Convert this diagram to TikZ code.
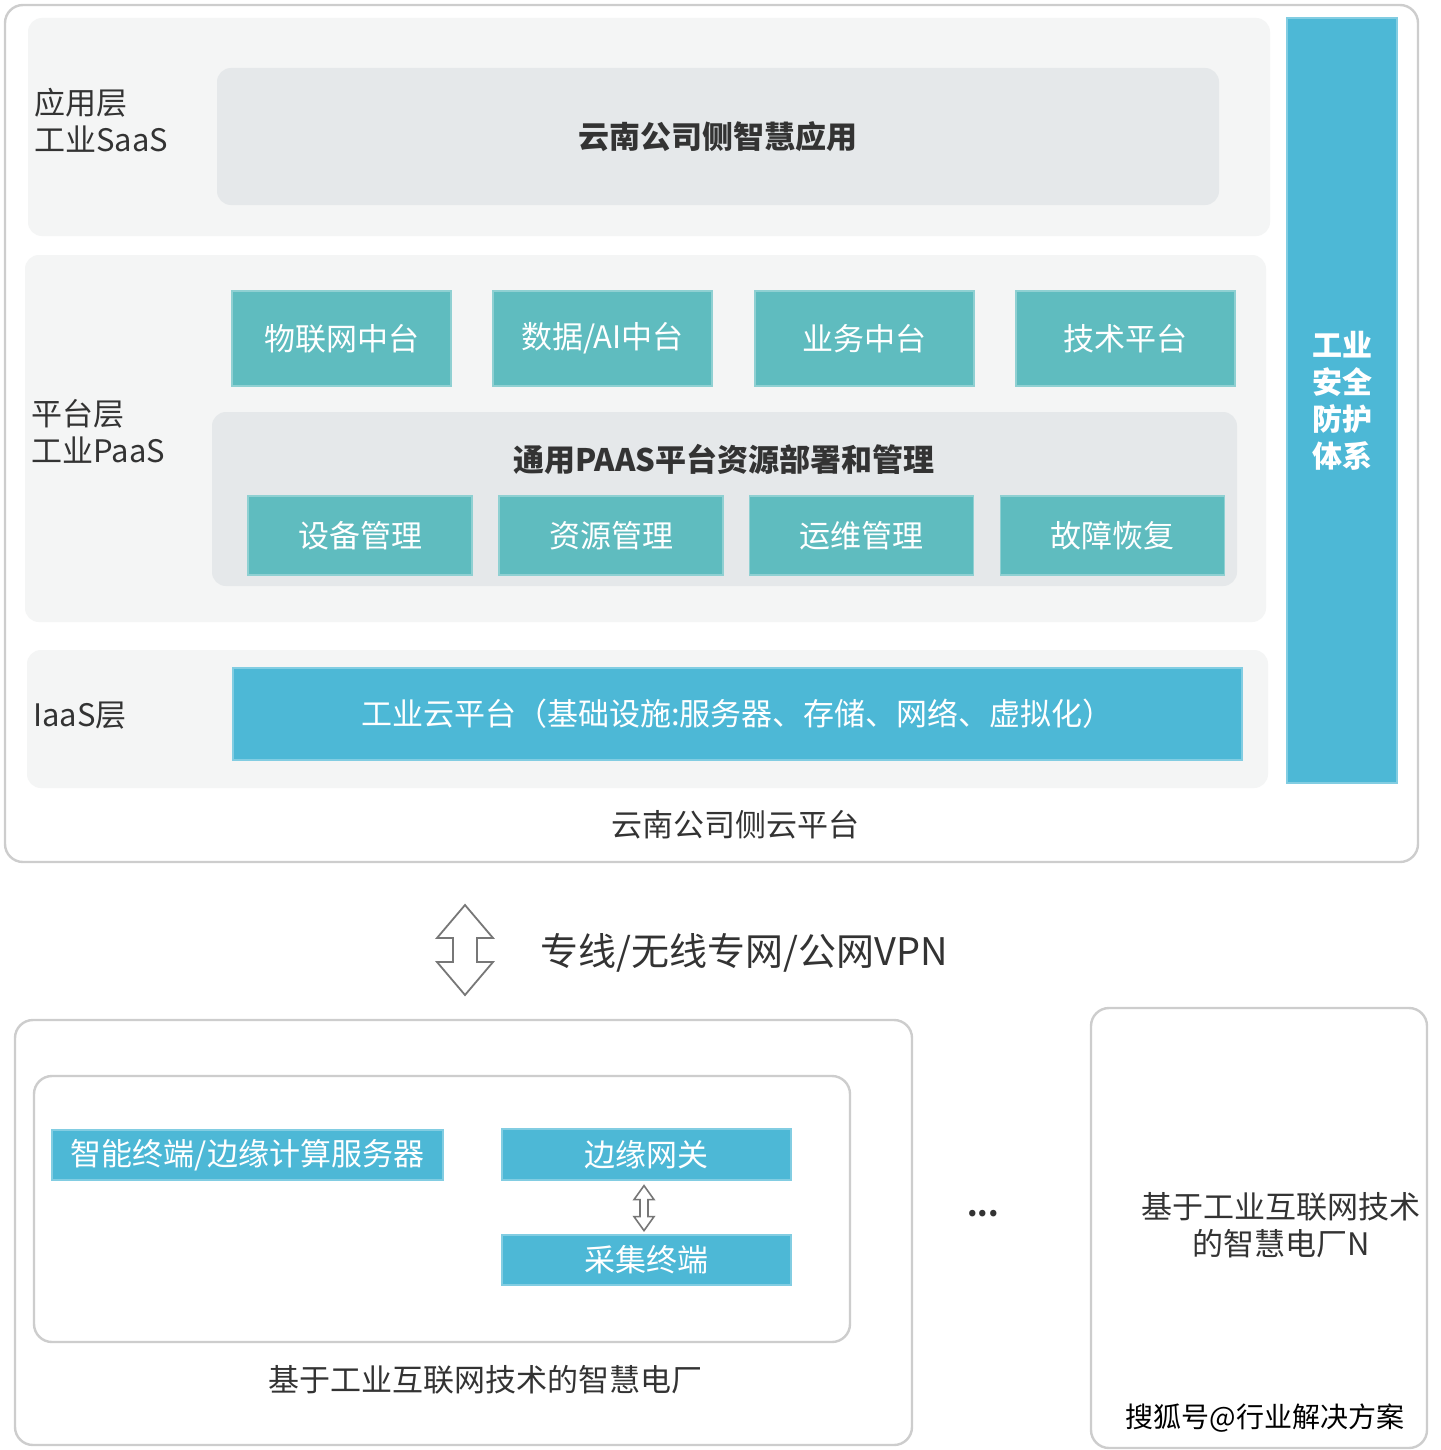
\documentclass[tikz,border=0pt]{standalone}
\usepackage{fontspec}
\setmainfont{Noto Sans CJK SC}
\definecolor{panelc}{HTML}{F4F5F5}
\definecolor{innerc}{HTML}{E5E8EA}
\definecolor{tealc}{HTML}{5FBCBF}
\definecolor{bluec}{HTML}{4DB8D6}
\definecolor{borderc}{HTML}{CDCDCD}
\definecolor{txtc}{HTML}{333333}
\definecolor{arrowc}{HTML}{777777}
\tikzset{
  frame/.style={draw=borderc, line width=1.2pt, fill=white, rounded corners=9pt, inner sep=0pt},
  panel/.style={fill=panelc, rounded corners=7pt, inner sep=0pt},
  innerpanel/.style={fill=innerc, rounded corners=7pt, inner sep=0pt},
  tealbox/.style={fill=tealc, draw=tealc!70!white, line width=0.6pt, text=white, inner sep=0pt, font=\fontsize{15.5}{18}\selectfont},
  bluebox/.style={fill=bluec, draw=bluec!70!white, line width=0.6pt, text=white, inner sep=0pt, font=\fontsize{15.5}{18}\selectfont},
  lbl/.style={text=txtc, inner sep=0pt, font=\fontsize{15.5}{18.5}\selectfont},
  hollow/.style={draw=arrowc, line width=0.9pt, fill=white, line join=miter}
}
\begin{document}
\begin{tikzpicture}[x=0.5pt,y=-0.5pt]
\useasboundingbox (0,0) rectangle (1440,1450);
% top outer frame
\node[frame, minimum width=706.5pt, minimum height=428.5pt] (outer) at (711.5,433.5) {};
% SaaS layer
\node[panel, minimum width=621pt, minimum height=109pt] (saas) at (649,127) {};
\node[innerpanel, minimum width=501pt, minimum height=68.5pt, text=txtc, font=\fontsize{15.5}{18}\selectfont\bfseries] (app) at (718,136.5) {云南公司侧智慧应用};
\node[lbl, anchor=north west, align=left] (saaslbl) at (34,88) {应用层\\工业SaaS};
% PaaS layer
\node[panel, minimum width=620.5pt, minimum height=183.5pt] (paas) at (645.5,438.5) {};
\node[lbl, anchor=north west, align=left] (paaslbl) at (31,399) {平台层\\工业PaaS};
\node[tealbox, minimum width=109.5pt, minimum height=47.5pt] (iot) at (341.5,338.5) {物联网中台};
\node[tealbox, minimum width=109.5pt, minimum height=47.5pt] (data) at (602.5,338.5) {数据/AI中台};
\node[tealbox, minimum width=109.5pt, minimum height=47.5pt] (biz) at (864.5,338.5) {业务中台};
\node[tealbox, minimum width=109.5pt, minimum height=47.5pt] (tech) at (1125.5,338.5) {技术平台};
\node[innerpanel, minimum width=512.5pt, minimum height=87pt] (gen) at (724.5,499) {};
\node[text=txtc, inner sep=0pt, font=\fontsize{15.5}{18}\selectfont\bfseries] (gentitle) at (724,459) {通用PAAS平台资源部署和管理};
\node[tealbox, minimum width=112pt, minimum height=39.5pt] (dev) at (360,535.5) {设备管理};
\node[tealbox, minimum width=112pt, minimum height=39.5pt] (res) at (611,535.5) {资源管理};
\node[tealbox, minimum width=112pt, minimum height=39.5pt] (ops) at (861.5,535.5) {运维管理};
\node[tealbox, minimum width=112pt, minimum height=39.5pt] (rec) at (1112.5,535.5) {故障恢复};
% IaaS layer
\node[panel, minimum width=620.5pt, minimum height=69pt] (iaas) at (647.5,719) {};
\node[lbl, anchor=west] (iaaslbl) at (33,716) {IaaS层};
\node[bluebox, minimum width=504.5pt, minimum height=46pt] (cloud) at (737.5,714) {工业云平台（基础设施:服务器、存储、网络、虚拟化）};
% security bar
\node[bluebox, minimum width=55pt, minimum height=382.5pt, align=center, font=\fontsize{15}{18.5}\selectfont\bfseries] (sec) at (1342,400.5) {工业\\安全\\防护\\体系};
\node[lbl] (cap1) at (735,825) {云南公司侧云平台};
% link arrow
\coordinate (bigtip) at (465,905);
\draw[hollow] (bigtip) -- ++(28,33) -- ++(-16,0) -- ++(0,24) -- ++(16,0) -- ++(-28,33) -- ++(-28,-33) -- ++(16,0) -- ++(0,-24) -- ++(-16,0) -- cycle;
\node[lbl, anchor=west, font=\fontsize{19}{21}\selectfont] (vpn) at (540,953) {专线/无线专网/公网VPN};
% bottom left plant
\node[frame, minimum width=448.5pt, minimum height=212.5pt] (plant) at (463.5,1232.5) {};
\node[frame, minimum width=408pt, minimum height=133pt] (edge) at (442,1209) {};
\node[bluebox, minimum width=195.5pt, minimum height=25pt] (term) at (247.5,1155) {智能终端/边缘计算服务器};
\node[bluebox, minimum width=144.5pt, minimum height=25.5pt] (gw) at (646.5,1154.5) {边缘网关};
\node[bluebox, minimum width=144.5pt, minimum height=25pt] (col) at (646.5,1260) {采集终端};
\path (gw.south) ++(-2.5,5) coordinate (smalltip);
\draw[hollow, line width=0.8pt] (smalltip) -- ++(10,14) -- ++(-6,0) -- ++(0,17) -- ++(6,0) -- ++(-10,14) -- ++(-10,-14) -- ++(6,0) -- ++(0,-17) -- ++(-6,0) -- cycle;
\node[lbl] (cap2) at (485,1380) {基于工业互联网技术的智慧电厂};
\node[lbl, font=\fontsize{15}{18}\selectfont\bfseries] (dots) at (983,1214) {...};
% bottom right plant N
\node[frame, minimum width=168pt, minimum height=220pt] (plantn) at (1259,1228) {};
\node[lbl, align=center] (plantnlbl) at (1281,1225) {基于工业互联网技术\\的智慧电厂N};
\node[lbl, text=black, font=\fontsize{14}{16}\selectfont] (wm) at (1265,1418) {搜狐号@行业解决方案};
\end{tikzpicture}
\end{document}
